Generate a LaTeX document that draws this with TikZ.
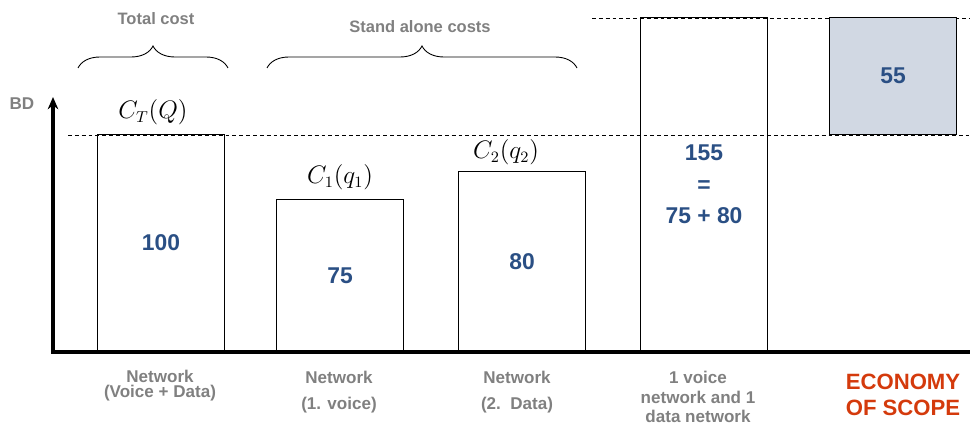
\documentclass[tikz,border=0pt]{standalone}
\usepackage{fontspec}
\setmainfont{Liberation Sans}
\usepackage{tikz}
\usetikzlibrary{arrows.meta, positioning, decorations.pathreplacing}

\definecolor{txtgray}{HTML}{808080}
\definecolor{numblue}{HTML}{2A4F84}
\definecolor{scopered}{HTML}{D43A0C}
\definecolor{scopefill}{HTML}{D1D8E3}

\begin{document}
\begin{tikzpicture} [x=0.02cm, y=-0.02cm,
        bar/.style = {draw, line width=0.6pt, inner sep=0pt,
                      minimum width=2.54cm, anchor=south west,
                      font=\fontsize{13}{15}\selectfont\bfseries,
                      text=numblue, align=center},
        cost/.style = {font=\fontsize{13.5}{15}\selectfont},
        caption/.style = {text=txtgray, align=center,
                          font=\fontsize{9.7}{11}\selectfont\bfseries},
        level/.style = {dashed, dash pattern=on 2.2pt off 1.7pt, line width=0.5pt},
        axis/.style = {line width=1.8pt},
        curly/.style = {decorate, line width=0.5pt,
                        decoration={brace, amplitude=0.44cm}}]
        \useasboundingbox (0,0) rectangle (970,425);

        % axes
        \coordinate (O) at (53,352);
        \coordinate (ytop) at (53,97);
        \coordinate (xend) at (970,352);
        \draw [axis, {Stealth[length=7pt, width=6pt]}-] (ytop) -- (O) -- (xend);
        \node (BD) [text=txtgray, font=\fontsize{9.7}{11}\selectfont\bfseries] at (22,104) {BD};

        % dashed levels
        \coordinate (lowL) at (68,135);
        \coordinate (lowR) at (970,135);
        \coordinate (topL) at (592,18);
        \coordinate (topR) at (970,18);
        \draw [level] (lowL) -- (lowR);
        \draw [level] (topL) -- (topR);

        % bars
        \node (total) [bar, minimum height=4.34cm] at (97,352) {100};
        \node (voice) [bar, minimum height=3.04cm] at (276,352) {75};
        \node (data)  [bar, minimum height=3.6cm]  at (458,352) {80};
        \node (sum)   [bar, minimum height=6.68cm] at (640,352)
              {155\\[3pt] =\\[3pt] 75 + 80};
        \node (scope) [bar, minimum height=2.34cm, fill=scopefill] at (829,135) {55};

        % cost functions
        \node (CT) [cost, above = 0.06cm of total.north, xshift=-0.16cm] {$C_T(Q)$};
        \node (C1) [cost, above = 0.06cm of voice.north] {$C_1(q_1)$};
        \node (C2) [cost, above = 0cm of data.north, xshift=-0.32cm] {$C_2(q_2)$};

        % braces
        \coordinate (b1L) at (78,68);
        \coordinate (b1R) at (228,68);
        \coordinate (b2L) at (267,68);
        \coordinate (b2R) at (577,68);
        \draw [curly] (b1L) -- (b1R);
        \draw [curly] (b2L) -- (b2R);
        \node (totalcost) [caption, font=\fontsize{9.4}{11}\selectfont\bfseries] at (156,19) {Total cost};
        \node (standalone) [caption, font=\fontsize{9.4}{11}\selectfont\bfseries] at (420,27) {Stand alone costs};

        % captions below the axis
        \node (capT) [caption, font=\fontsize{9.7}{8.5}\selectfont\bfseries] at (160,386) {Network\\(Voice + Data)};
        \node (cap1) [caption, font=\fontsize{9.7}{14.5}\selectfont\bfseries] at (339,392) {Network\\(1. voice)};
        \node (cap2) [caption, font=\fontsize{9.7}{14.5}\selectfont\bfseries] at (517,392) {Network\\(2.\ \ Data)};
        \node (capS) [caption, font=\fontsize{9.7}{11}\selectfont\bfseries] at (698,397) {1 voice\\network and 1\\data network};
        \node (capE) [caption, text=scopered, font=\fontsize{12.6}{15}\selectfont\bfseries] at (903,395) {ECONOMY\\OF SCOPE};
\end{tikzpicture}
\end{document}
